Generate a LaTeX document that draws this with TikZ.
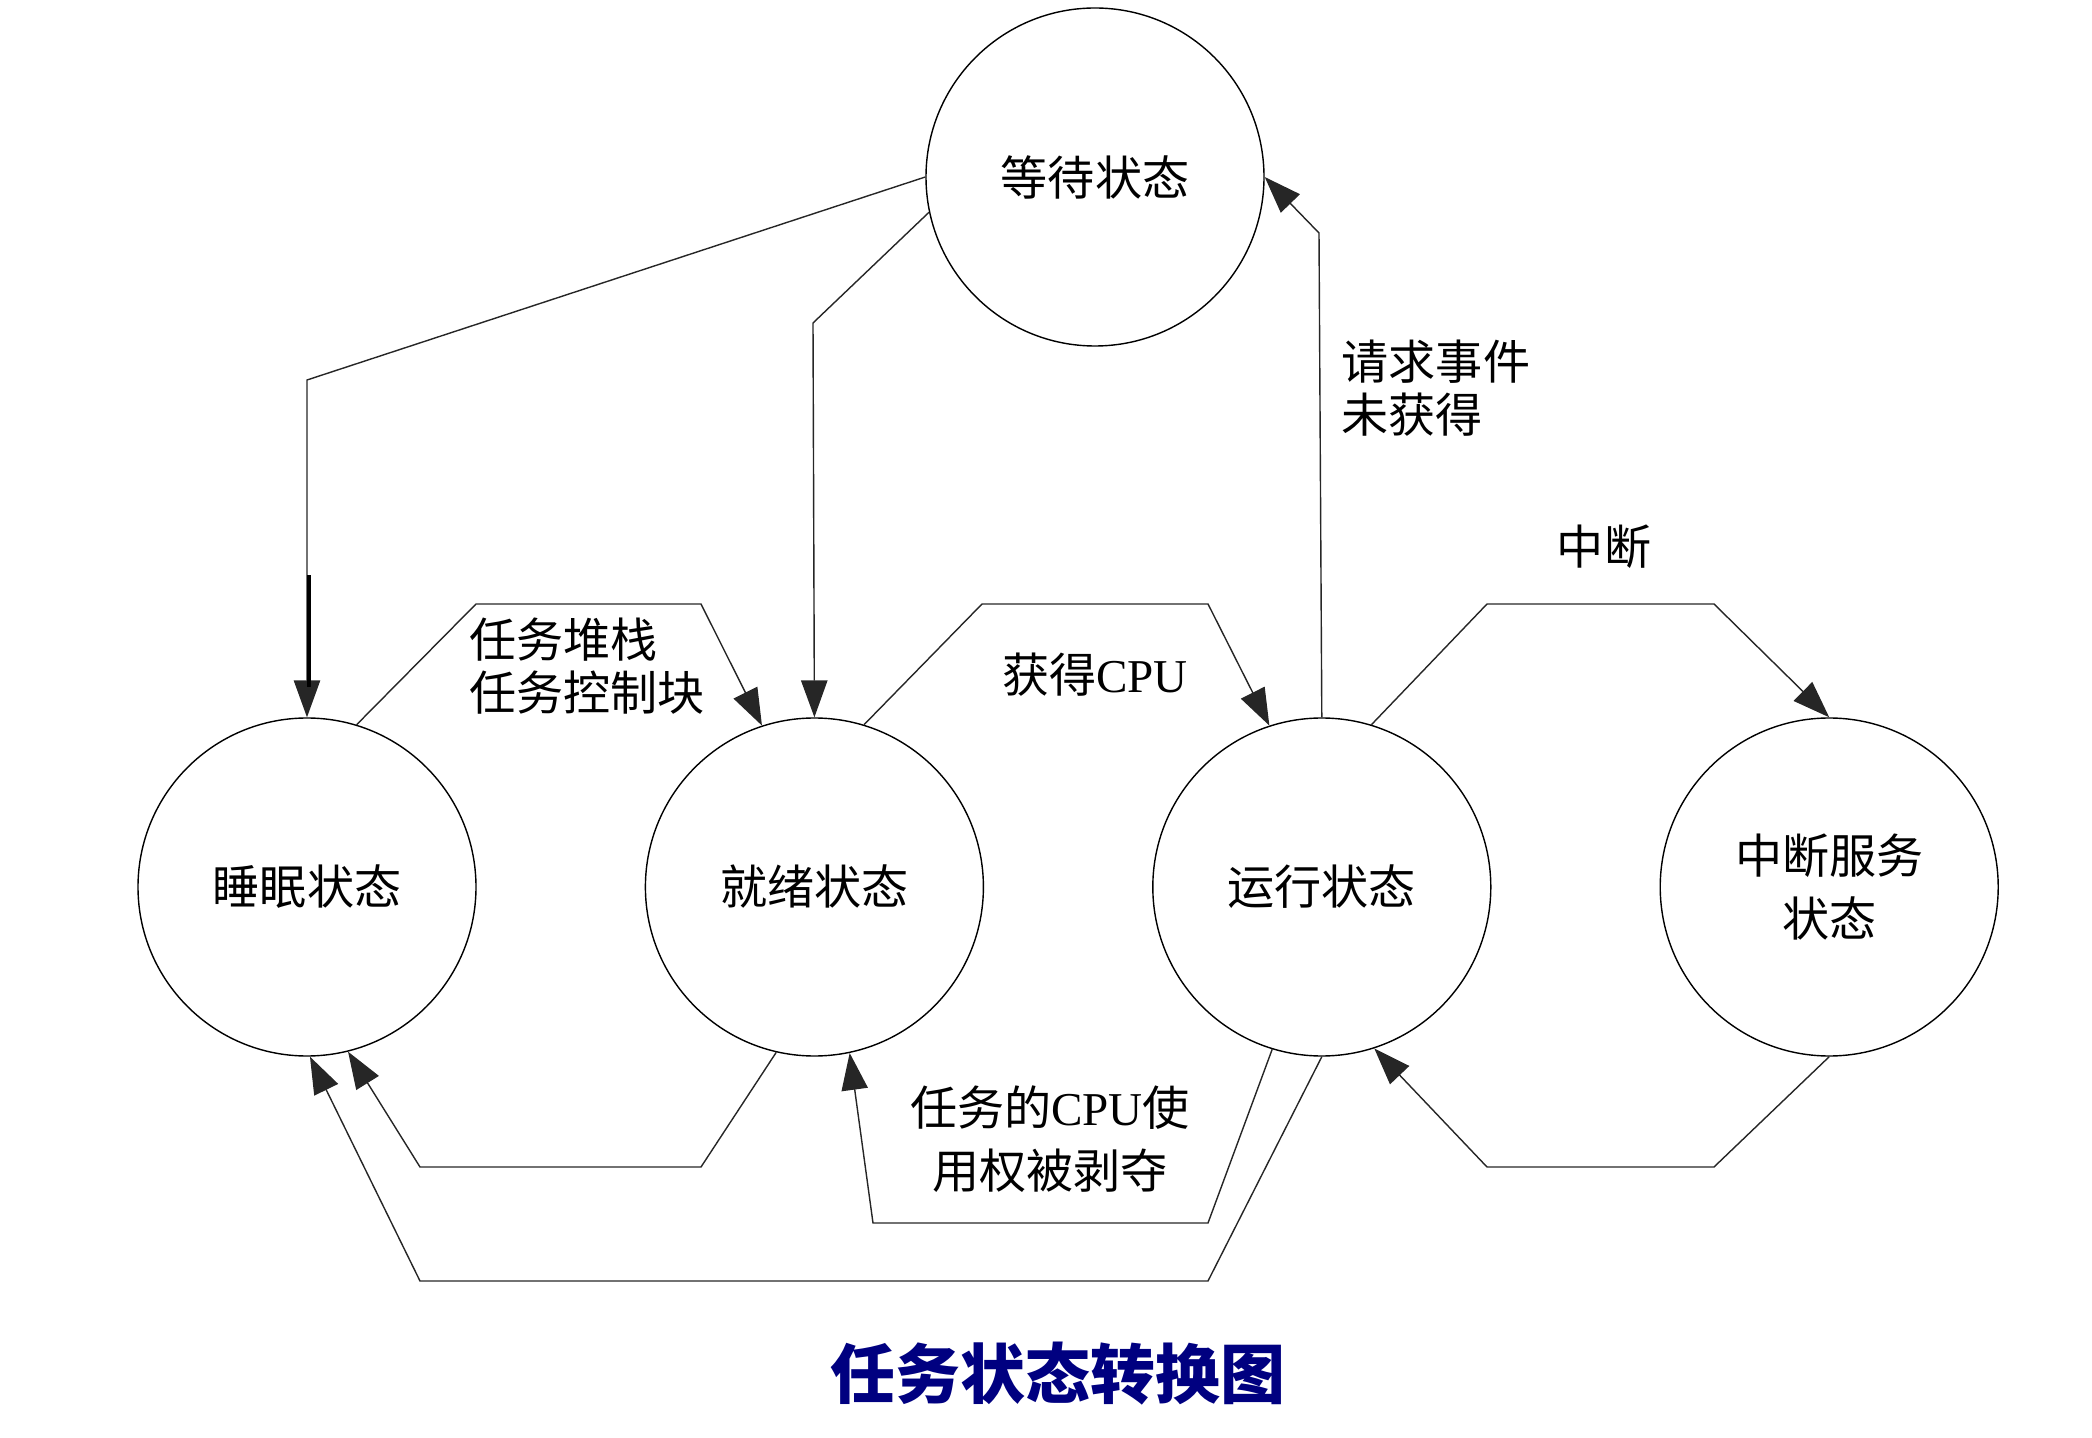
\documentclass[tikz,border=0pt]{standalone}
\usepackage{fontspec}
\setmainfont{Liberation Serif}
\newfontfamily\cjk{Noto Sans CJK SC}
\usepackage{xcolor}
\definecolor{tnavy}{RGB}{0,0,128}
\usetikzlibrary{arrows.meta,positioning}

\begin{document}
\begin{tikzpicture}[
  node distance=1.68cm,
  state/.style={circle,draw,thin,minimum size=3.38cm,inner sep=0pt,align=center,font=\cjk\fontsize{13.4}{18}\selectfont},
  lbl/.style={font=\cjk\fontsize{13.4}{15}\selectfont,inner sep=0pt},
  arrow/.style={-{Triangle[length=10.5pt,width=7.5pt]},thin,black!85}
]
  \useasboundingbox (0,0) rectangle (20.92,-14.38);

  % === States ===
  \node[state] (sleep) at (3.07,-8.87) {睡眠状态};
  \node[state,right=of sleep] (ready) {就绪状态};
  \node[state,right=of ready] (run) {运行状态};
  \node[state,right=of run] (isr) {中断服务\\状态};
  \node[state] (wait) at (10.95,-1.77) {等待状态};

  % === Labels ===
  \node[lbl,align=left] (stk) at (5.87,-6.66) {任务堆栈\\任务控制块};
  \node[lbl] (cpu) at (10.95,-6.75) {获得\textrm{CPU}};
  \node[lbl,align=left,anchor=west] (req) at (13.41,-3.88) {请求事件\\未获得};
  \node[lbl] (irq) at (16.04,-5.47) {中断};
  \node[lbl,align=center,font=\cjk\fontsize{13.4}{18}\selectfont] (pre) at (10.50,-11.39) {任务的\textrm{CPU}使\\用权被剥夺};
  \node[font=\cjk\bfseries\fontsize{18.5}{20}\selectfont,text=tnavy] (title) at (10.58,-13.74) {任务状态转换图};

  % Transitions
  \draw[arrow] (wait.west) -- (3.07,-3.80) -- (sleep.north);
  \draw[line width=1.1pt] ([shift={(0.02,1.42)}]sleep.north) -- ([shift={(0.02,0.3)}]sleep.north);
  \draw[arrow] (wait.192) -- (8.13,-3.23) -- (ready.north);
  \draw[arrow] (sleep.73) -- (4.76,-6.04) -- (7.01,-6.04) -- (ready.108);
  \draw[arrow] (ready.73) -- (9.82,-6.04) -- (12.08,-6.04) -- (run.108);
  \draw[arrow] (run.north) -- (13.19,-2.33) -- (wait.east);
  \draw[arrow] (run.73) -- (14.87,-6.04) -- (17.14,-6.04) -- (isr.north);
  \draw[arrow] (isr.south) -- (17.14,-11.67) -- (14.87,-11.67) -- (run.-72);
  \draw[arrow] (ready.-103) -- (7.01,-11.67) -- (4.20,-11.67) -- (sleep.-76);
  \draw[arrow] (run.-107) -- (12.08,-12.23) -- (8.73,-12.23) -- (ready.-78);
  \draw[arrow] (run.south) -- (12.08,-12.81) -- (4.20,-12.81) -- (sleep.-89);
\end{tikzpicture}
\end{document}
